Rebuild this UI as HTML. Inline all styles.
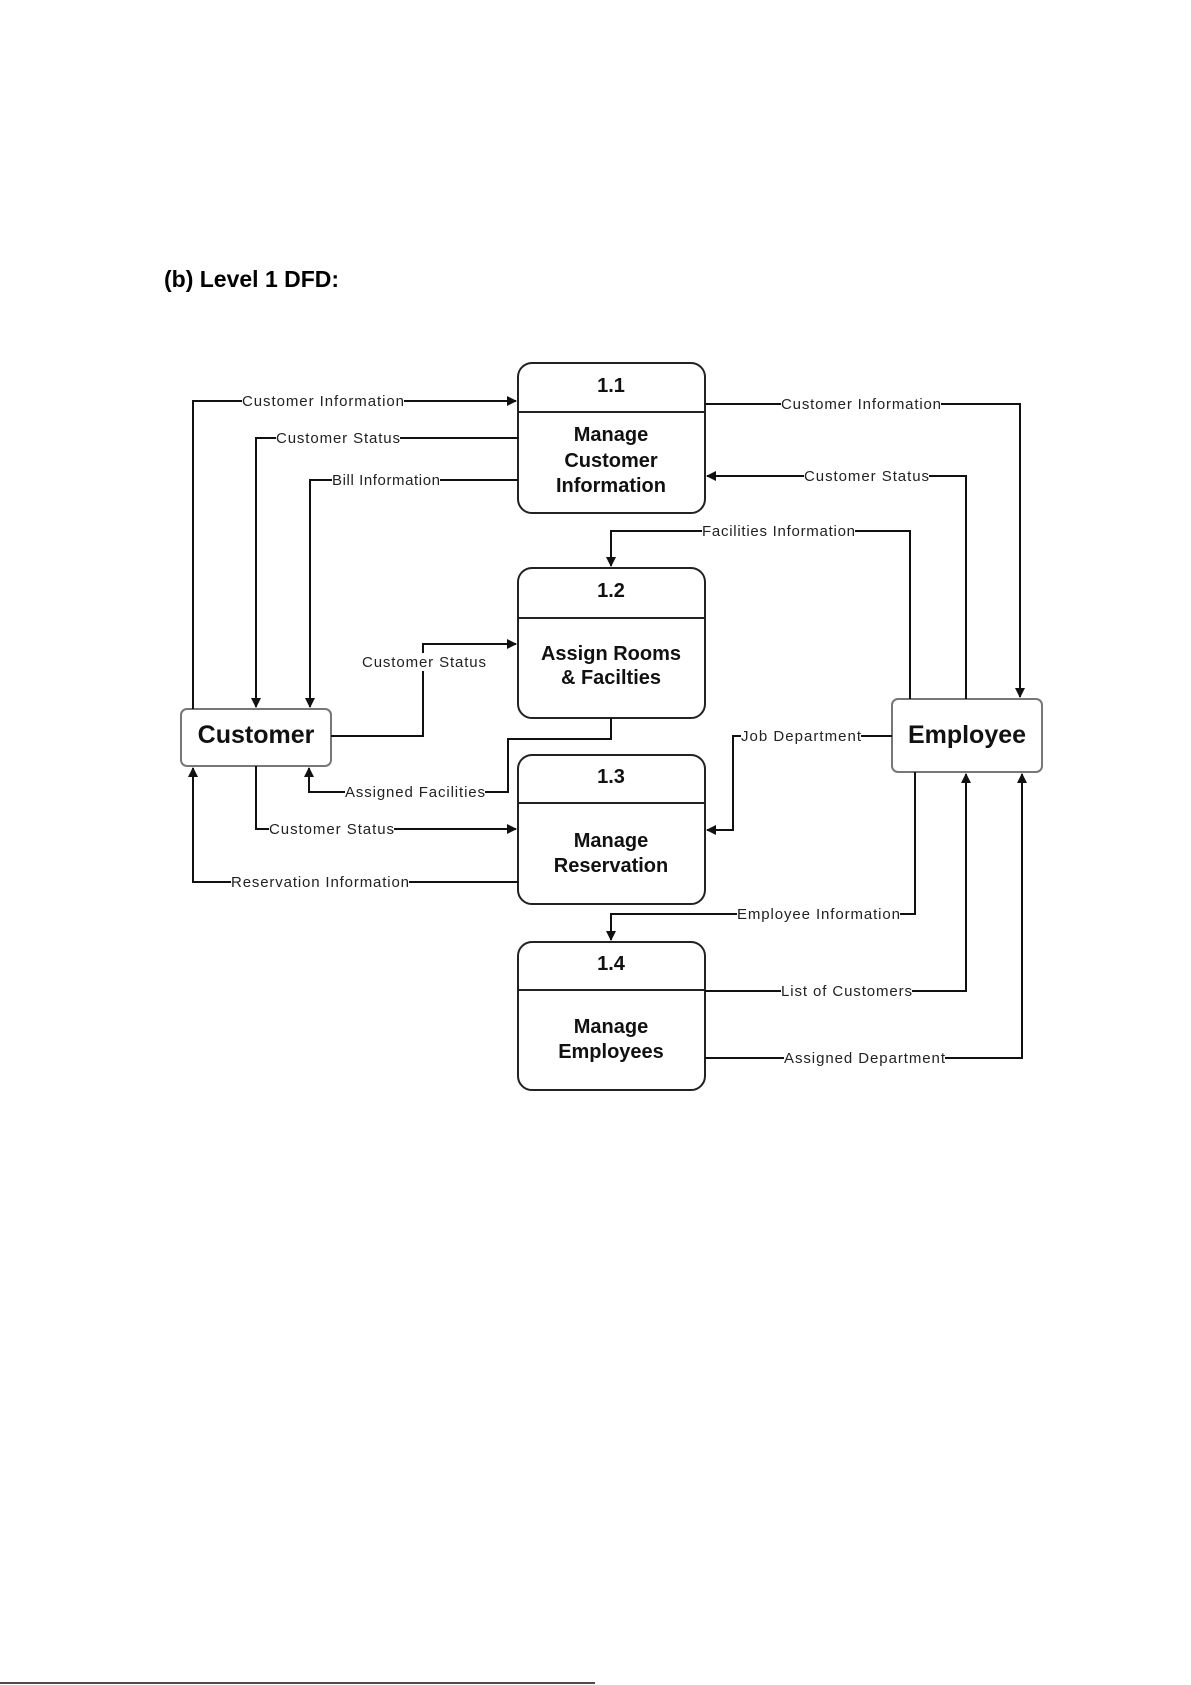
<!DOCTYPE html>
<html><head><style>
html,body{margin:0;padding:0;background:#fff;}
svg{display:block;}
text{font-family:"Liberation Sans",Arial,sans-serif;}
.l{font-size:15px;fill:#222;}
.b{font-size:20px;font-weight:bold;fill:#111;text-anchor:middle;}
</style></head><body>
<svg width="1191" height="1685" viewBox="0 0 1191 1685" xmlns="http://www.w3.org/2000/svg">
<defs><marker id="a" markerWidth="10" markerHeight="10" refX="9" refY="5" orient="auto" markerUnits="userSpaceOnUse"><path d="M0,0 L10,5 L0,10 z" fill="#111"/></marker></defs>
<text x="164" y="287" style="font-size:23px;font-weight:bold;fill:#000">(b) Level 1 DFD:</text>
<g fill="#fff" stroke="#222" stroke-width="2">
<rect x="518" y="363" width="187" height="150" rx="14"/><line x1="518" y1="412" x2="705" y2="412"/>
<rect x="518" y="568" width="187" height="150" rx="14"/><line x1="518" y1="618" x2="705" y2="618"/>
<rect x="518" y="755" width="187" height="149" rx="14"/><line x1="518" y1="803" x2="705" y2="803"/>
<rect x="518" y="942" width="187" height="148" rx="14"/><line x1="518" y1="990" x2="705" y2="990"/>
<rect x="181" y="709" width="150" height="57" rx="6" stroke="#777"/>
<rect x="892" y="699" width="150" height="73" rx="6" stroke="#777"/>
</g>
<text class="b" x="611" y="392">1.1</text>
<text class="b" x="611" y="441">Manage</text><text class="b" x="611" y="467">Customer</text><text class="b" x="611" y="492">Information</text>
<text class="b" x="611" y="597">1.2</text>
<text class="b" x="611" y="660">Assign Rooms</text><text class="b" x="611" y="684">&amp; Facilties</text>
<text class="b" x="611" y="783">1.3</text>
<text class="b" x="611" y="847">Manage</text><text class="b" x="611" y="872">Reservation</text>
<text class="b" x="611" y="970">1.4</text>
<text class="b" x="611" y="1033">Manage</text><text class="b" x="611" y="1058">Employees</text>
<text class="b" x="256" y="743" style="font-size:25px">Customer</text>
<text class="b" x="967" y="743" style="font-size:25px">Employee</text>
<g fill="none" stroke="#111" stroke-width="2">
<polyline points="193,709 193,401 516,401" marker-end="url(#a)"/>
<polyline points="518,438 256,438 256,707" marker-end="url(#a)"/>
<polyline points="518,480 310,480 310,707" marker-end="url(#a)"/>
<polyline points="331,736 423,736 423,644 516,644" marker-end="url(#a)"/>
<polyline points="611,718 611,739 508,739 508,792 309,792 309,768" marker-end="url(#a)"/>
<polyline points="256,766 256,829 516,829" marker-end="url(#a)"/>
<polyline points="518,882 193,882 193,768" marker-end="url(#a)"/>
<polyline points="705,404 1020,404 1020,697" marker-end="url(#a)"/>
<polyline points="966,699 966,476 707,476" marker-end="url(#a)"/>
<polyline points="910,699 910,531 611,531 611,566" marker-end="url(#a)"/>
<polyline points="892,736 733,736 733,830 707,830" marker-end="url(#a)"/>
<polyline points="915,772 915,914 611,914 611,940" marker-end="url(#a)"/>
<polyline points="705,991 966,991 966,774" marker-end="url(#a)"/>
<polyline points="705,1058 1022,1058 1022,774" marker-end="url(#a)"/>
<line x1="0" y1="1683" x2="595" y2="1683" stroke-width="1.5"/>
</g>
<g fill="#fff">
<rect x="242" y="392" width="162" height="18"/><rect x="276" y="429" width="124" height="18"/>
<rect x="332" y="471" width="108" height="18"/><rect x="362" y="653" width="124" height="18"/>
<rect x="345" y="783" width="140" height="18"/><rect x="269" y="820" width="125" height="18"/>
<rect x="231" y="873" width="178" height="18"/><rect x="781" y="395" width="160" height="18"/>
<rect x="804" y="467" width="125" height="18"/><rect x="702" y="522" width="153" height="18"/>
<rect x="741" y="727" width="120" height="18"/><rect x="737" y="905" width="163" height="18"/>
<rect x="781" y="982" width="131" height="18"/><rect x="784" y="1049" width="161" height="18"/>
</g>
<g class="l">
<text x="242" y="406" textLength="162">Customer Information</text>
<text x="276" y="443" textLength="124">Customer Status</text>
<text x="332" y="485" textLength="108">Bill Information</text>
<text x="362" y="667" textLength="124">Customer Status</text>
<text x="345" y="797" textLength="140">Assigned Facilities</text>
<text x="269" y="834" textLength="125">Customer Status</text>
<text x="231" y="887" textLength="178">Reservation Information</text>
<text x="781" y="409" textLength="160">Customer Information</text>
<text x="804" y="481" textLength="125">Customer Status</text>
<text x="702" y="536" textLength="153">Facilities Information</text>
<text x="741" y="741" textLength="120">Job Department</text>
<text x="737" y="919" textLength="163">Employee Information</text>
<text x="781" y="996" textLength="131">List of Customers</text>
<text x="784" y="1063" textLength="161">Assigned Department</text>
</g>
</svg>
</body></html>
